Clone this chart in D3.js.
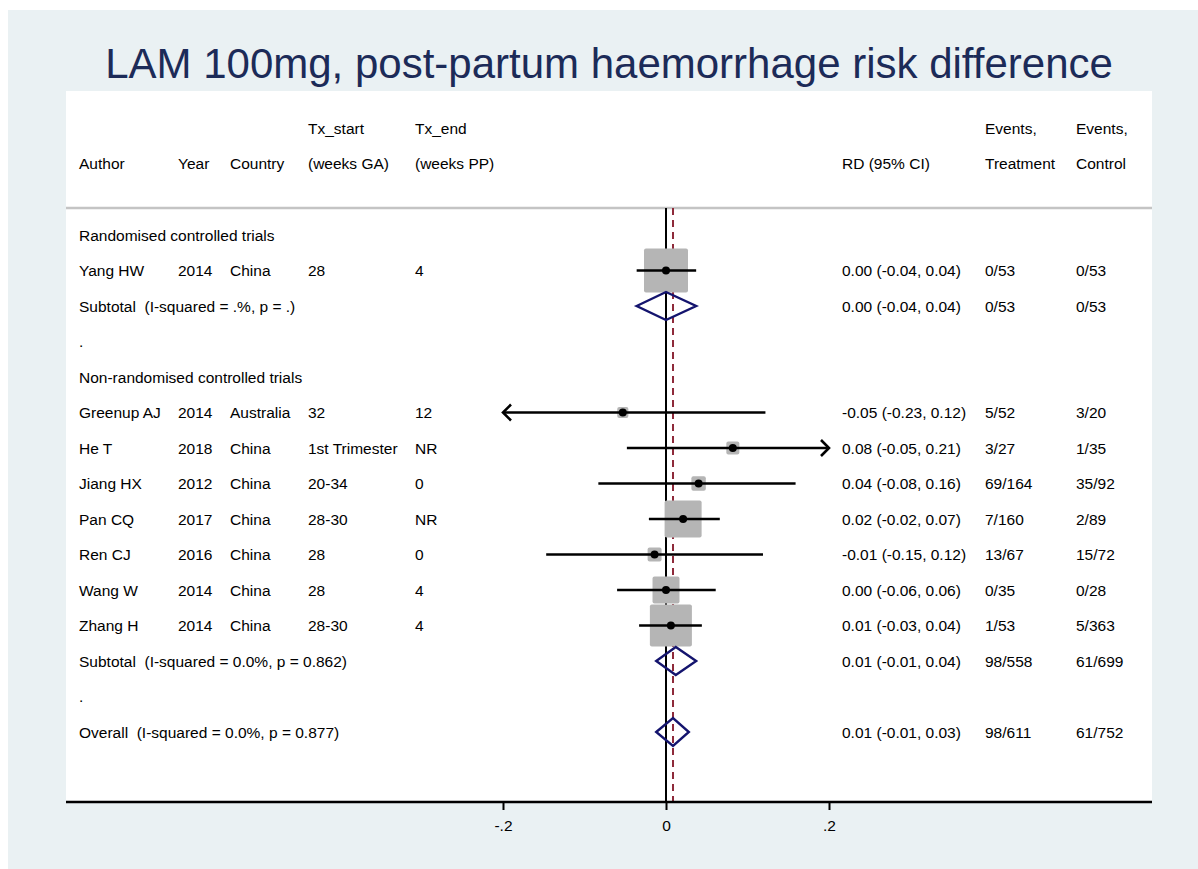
<!DOCTYPE html>
<html>
<head>
<meta charset="utf-8">
<script src="https://cdn.jsdelivr.net/npm/d3@7"></script>
<style>
  html, body { margin: 0; padding: 0; background: #ffffff; }
  svg text { font-family: "Liberation Sans", Arial, Helvetica, sans-serif; }
</style>
</head>
<body>
<svg id="chart" width="1198" height="869"></svg>
<script>
// ---- Study-level data ----
const authors   = ["Yang HW", "Greenup AJ", "He T", "Jiang HX", "Pan CQ", "Ren CJ", "Wang W", "Zhang H"];
const years     = ["2014", "2014", "2018", "2012", "2017", "2016", "2014", "2014"];
const countries = ["China", "Australia", "China", "China", "China", "China", "China", "China"];
const txStart   = ["28", "32", "1st Trimester", "20-34", "28-30", "28", "28", "28-30"];
const txEnd     = ["4", "12", "NR", "0", "NR", "0", "4", "4"];
const groups    = ["rct", "nrct", "nrct", "nrct", "nrct", "nrct", "nrct", "nrct"];
const rdEst     = [0.000, -0.053, 0.082, 0.040, 0.021, -0.014, 0.000, 0.006];
const rdLow     = [-0.036, -0.226, -0.048, -0.083, -0.021, -0.147, -0.060, -0.033];
const rdHigh    = [0.037, 0.122, 0.206, 0.159, 0.066, 0.119, 0.061, 0.044];
const weights   = [29.8, 1.9, 2.6, 3.2, 21.1, 3.0, 11.2, 27.2];
const eventsTx  = ["0/53", "5/52", "3/27", "69/164", "7/160", "13/67", "0/35", "1/53"];
const eventsCtl = ["0/53", "3/20", "1/35", "35/92", "2/89", "15/72", "0/28", "5/363"];

// ---- Pooled estimates ----
const pooledNames = ["Subtotal  (I-squared = .%, p = .)", "Subtotal  (I-squared = 0.0%, p = 0.862)", "Overall  (I-squared = 0.0%, p = 0.877)"];
const pooledEst   = [0.000, 0.012, 0.0086];
const pooledLow   = [-0.036, -0.012, -0.012];
const pooledHigh  = [0.037, 0.037, 0.028];
const pooledTx    = ["0/53", "98/558", "98/611"];
const pooledCtl   = ["0/53", "61/699", "61/752"];

const groupTitles = ["Randomised controlled trials", "Non-randomised controlled trials"];
const axisTicks   = [-0.2, 0, 0.2];
const axisLabels  = ["-.2", "0", ".2"];
const titleText   = "LAM 100mg, post-partum haemorrhage risk difference";

// ---- Build the row list ----
const rows = [];
rows.push({ type: "group", label: groupTitles[0] });
authors.forEach((a, i) => { if (groups[i] === "rct") rows.push({ type: "study", i }); });
rows.push({ type: "pooled", j: 0 });
rows.push({ type: "gap", label: "." });
rows.push({ type: "group", label: groupTitles[1] });
authors.forEach((a, i) => { if (groups[i] === "nrct") rows.push({ type: "study", i }); });
rows.push({ type: "pooled", j: 1 });
rows.push({ type: "gap", label: "." });
rows.push({ type: "pooled", j: 2 });

const fmt = v => v.toFixed(2);
const ciText = (e, l, h) => `${fmt(e)} (${fmt(l)}, ${fmt(h)})`;

// ---- Canvas ----
const W = 1198, H = 869;
const svg = d3.select("#chart");

svg.append("rect").attr("x", 8).attr("y", 10).attr("width", W - 8).attr("height", H - 10)
  .attr("fill", "#eaf1f3");

const plot = { left: 66, right: 1152, top: 91, bottom: 802 };
svg.append("rect").attr("x", plot.left).attr("y", plot.top)
  .attr("width", plot.right - plot.left).attr("height", plot.bottom - plot.top)
  .attr("fill", "#ffffff");

svg.append("text").attr("x", 609).attr("y", 63)
  .attr("text-anchor", "middle").attr("dominant-baseline", "central")
  .attr("font-size", 42).attr("fill", "#1c2b58")
  .text(titleText);

// ---- Scales ----
const x = d3.scaleLinear().domain([-0.2, 0.2]).range([503, 829]);
const y = d3.scalePoint().domain(d3.range(rows.length)).range([235, 732]);
const boxSize = d3.scaleSqrt().domain([0, d3.max(weights)]).range([0, 44]);

// ---- Column headers ----
const cols = { author: 79, year: 178, country: 230, start: 308, end: 415, rd: 842, evT: 985, evC: 1076 };
const headerLines = [
  { x: cols.start, t1: "Tx_start", t2: "(weeks GA)" },
  { x: cols.end,   t1: "Tx_end",   t2: "(weeks PP)" },
  { x: cols.evT,   t1: "Events,",  t2: "Treatment" },
  { x: cols.evC,   t1: "Events,",  t2: "Control" },
  { x: cols.author, t1: "", t2: "Author" },
  { x: cols.year,   t1: "", t2: "Year" },
  { x: cols.country, t1: "", t2: "Country" },
  { x: cols.rd,     t1: "", t2: "RD (95% CI)" }
];
const fs = 15.5;
const hdr = svg.append("g").attr("font-size", fs).attr("fill", "#000");
headerLines.forEach(h => {
  if (h.t1) hdr.append("text").attr("x", h.x).attr("y", 128).attr("dominant-baseline", "central").text(h.t1);
  hdr.append("text").attr("x", h.x).attr("y", 163).attr("dominant-baseline", "central").text(h.t2);
});

svg.append("line").attr("x1", plot.left).attr("x2", plot.right).attr("y1", 208).attr("y2", 208)
  .attr("stroke", "#c4c4c4").attr("stroke-width", 2.5);

// ---- Reference lines ----
svg.append("line").attr("x1", x(0)).attr("x2", x(0)).attr("y1", 208).attr("y2", plot.bottom)
  .attr("stroke", "#000").attr("stroke-width", 2);
svg.append("line").attr("x1", x(pooledEst[2])).attr("x2", x(pooledEst[2])).attr("y1", 208).attr("y2", plot.bottom)
  .attr("stroke", "#8e2a3a").attr("stroke-width", 2).attr("stroke-dasharray", "7,5");

// ---- Rows ----
const g = svg.append("g");
const txt = (xx, yy, s) => g.append("text").attr("x", xx).attr("y", yy)
  .attr("dominant-baseline", "central").attr("font-size", fs).attr("fill", "#000")
  .attr("xml:space", "preserve").style("white-space", "pre").text(s);

const [xmin, xmax] = x.domain();
function arrow(xt, yy, dir) {
  const a = 8;
  g.append("path")
    .attr("d", `M${xt - dir * a},${yy - a} L${xt},${yy} L${xt - dir * a},${yy + a}`)
    .attr("fill", "none").attr("stroke", "#000").attr("stroke-width", 2.6);
}

rows.forEach((r, k) => {
  const yy = y(k);
  if (r.type === "group" || r.type === "gap") {
    txt(cols.author, yy, r.label);
  } else if (r.type === "study") {
    const i = r.i;
    txt(cols.author, yy, authors[i]);
    txt(cols.year, yy, years[i]);
    txt(cols.country, yy, countries[i]);
    txt(cols.start, yy, txStart[i]);
    txt(cols.end, yy, txEnd[i]);
    txt(cols.rd, yy, ciText(rdEst[i], rdLow[i], rdHigh[i]));
    txt(cols.evT, yy, eventsTx[i]);
    txt(cols.evC, yy, eventsCtl[i]);

    const s = boxSize(weights[i]);
    g.append("rect").attr("x", x(rdEst[i]) - s / 2).attr("y", yy - s / 2)
      .attr("width", s).attr("height", s).attr("rx", 2)
      .attr("fill", "#b5b5b5");
    const lo = Math.max(rdLow[i], xmin), hi = Math.min(rdHigh[i], xmax);
    g.append("line").attr("x1", x(lo)).attr("x2", x(hi)).attr("y1", yy).attr("y2", yy)
      .attr("stroke", "#000").attr("stroke-width", 2.6);
    if (rdLow[i] < xmin) arrow(x(xmin), yy, -1);
    if (rdHigh[i] > xmax) arrow(x(xmax), yy, 1);
    g.append("circle").attr("cx", x(rdEst[i])).attr("cy", yy).attr("r", 4).attr("fill", "#000");
  } else if (r.type === "pooled") {
    const j = r.j;
    txt(cols.author, yy, pooledNames[j]);
    txt(cols.rd, yy, ciText(pooledEst[j], pooledLow[j], pooledHigh[j]));
    txt(cols.evT, yy, pooledTx[j]);
    txt(cols.evC, yy, pooledCtl[j]);
    const hh = 14;
    g.append("path")
      .attr("d", `M${x(pooledLow[j])},${yy} L${x(pooledEst[j])},${yy - hh} L${x(pooledHigh[j])},${yy} L${x(pooledEst[j])},${yy + hh} Z`)
      .attr("fill", "none").attr("stroke", "#14146e").attr("stroke-width", 2.4)
      .attr("stroke-linejoin", "miter");
  }
});

// ---- X axis ----
svg.append("line").attr("x1", plot.left).attr("x2", plot.right).attr("y1", plot.bottom).attr("y2", plot.bottom)
  .attr("stroke", "#000").attr("stroke-width", 2.5);
const axis = d3.axisBottom(x).tickValues(axisTicks).tickSize(8).tickPadding(10)
  .tickFormat((d, i) => axisLabels[i]);
const ax = svg.append("g").attr("transform", `translate(0,${plot.bottom})`).call(axis);
ax.select(".domain").remove();
ax.selectAll(".tick line").attr("stroke", "#000").attr("stroke-width", 2);
ax.selectAll(".tick text").attr("font-size", fs).attr("fill", "#000")
  .attr("font-family", "'Liberation Sans', Arial, sans-serif");
</script>
</body>
</html>
